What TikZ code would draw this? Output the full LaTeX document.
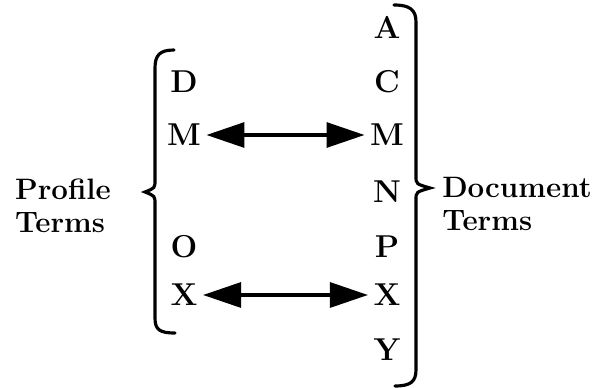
\documentclass[tikz,border=0pt]{standalone}
\usetikzlibrary{arrows.meta}
\tikzset{
  term/.style={font=\fontsize{18}{21}\selectfont\bfseries, inner sep=3pt},
  sidetext/.style={font=\fontsize{16.8}{19}\selectfont\bfseries, align=left, inner sep=0pt},
  brace/.style={line width=1.8pt, line cap=round},
  link/.style={line width=1.8pt, {Triangle[length=0.76cm,width=0.5cm]}-{Triangle[length=0.76cm,width=0.5cm]}}
}
\begin{document}
\begin{tikzpicture}[x=0.02cm, y=-0.02cm]
        \useasboundingbox (0,0) rectangle (593,388);
        % Profile terms
        \foreach \t/\y in {D/82, M/135, O/247, X/295} {
            \node[term] (l\t) at (184,\y) {\t};
        }
        % Document terms
        \foreach \t/\y in {A/27, C/82, M/135, N/192, P/247, X/295, Y/350} {
            \node[term] (r\t) at (387,\y) {\t};
        }
        % Left brace
        \draw[brace] (174,50) .. controls (160,50) and (155,55) .. (155,68)
            -- (155,180) .. controls (155,188) .. (145,192)
            .. controls (155,196) .. (155,204) -- (155,318)
            .. controls (155,330) and (160,333) .. (175,333);
        % Right brace
        \draw[brace] (394,5) .. controls (410,5) and (416,10) .. (416,22)
            -- (416,176) .. controls (416,184) .. (430,188)
            .. controls (416,192) .. (416,200) -- (416,370)
            .. controls (416,382) and (410,386) .. (395,386);
        % Labels
        \node[sidetext] (profile) at (63,206) {Profile\\Terms};
        \node[sidetext] (document) at (517,204) {Document\\Terms};
        % Links
        \draw[link] (lM) -- (rM);
        \draw[link] (lX) -- (rX);
    \end{tikzpicture}
\end{document}
